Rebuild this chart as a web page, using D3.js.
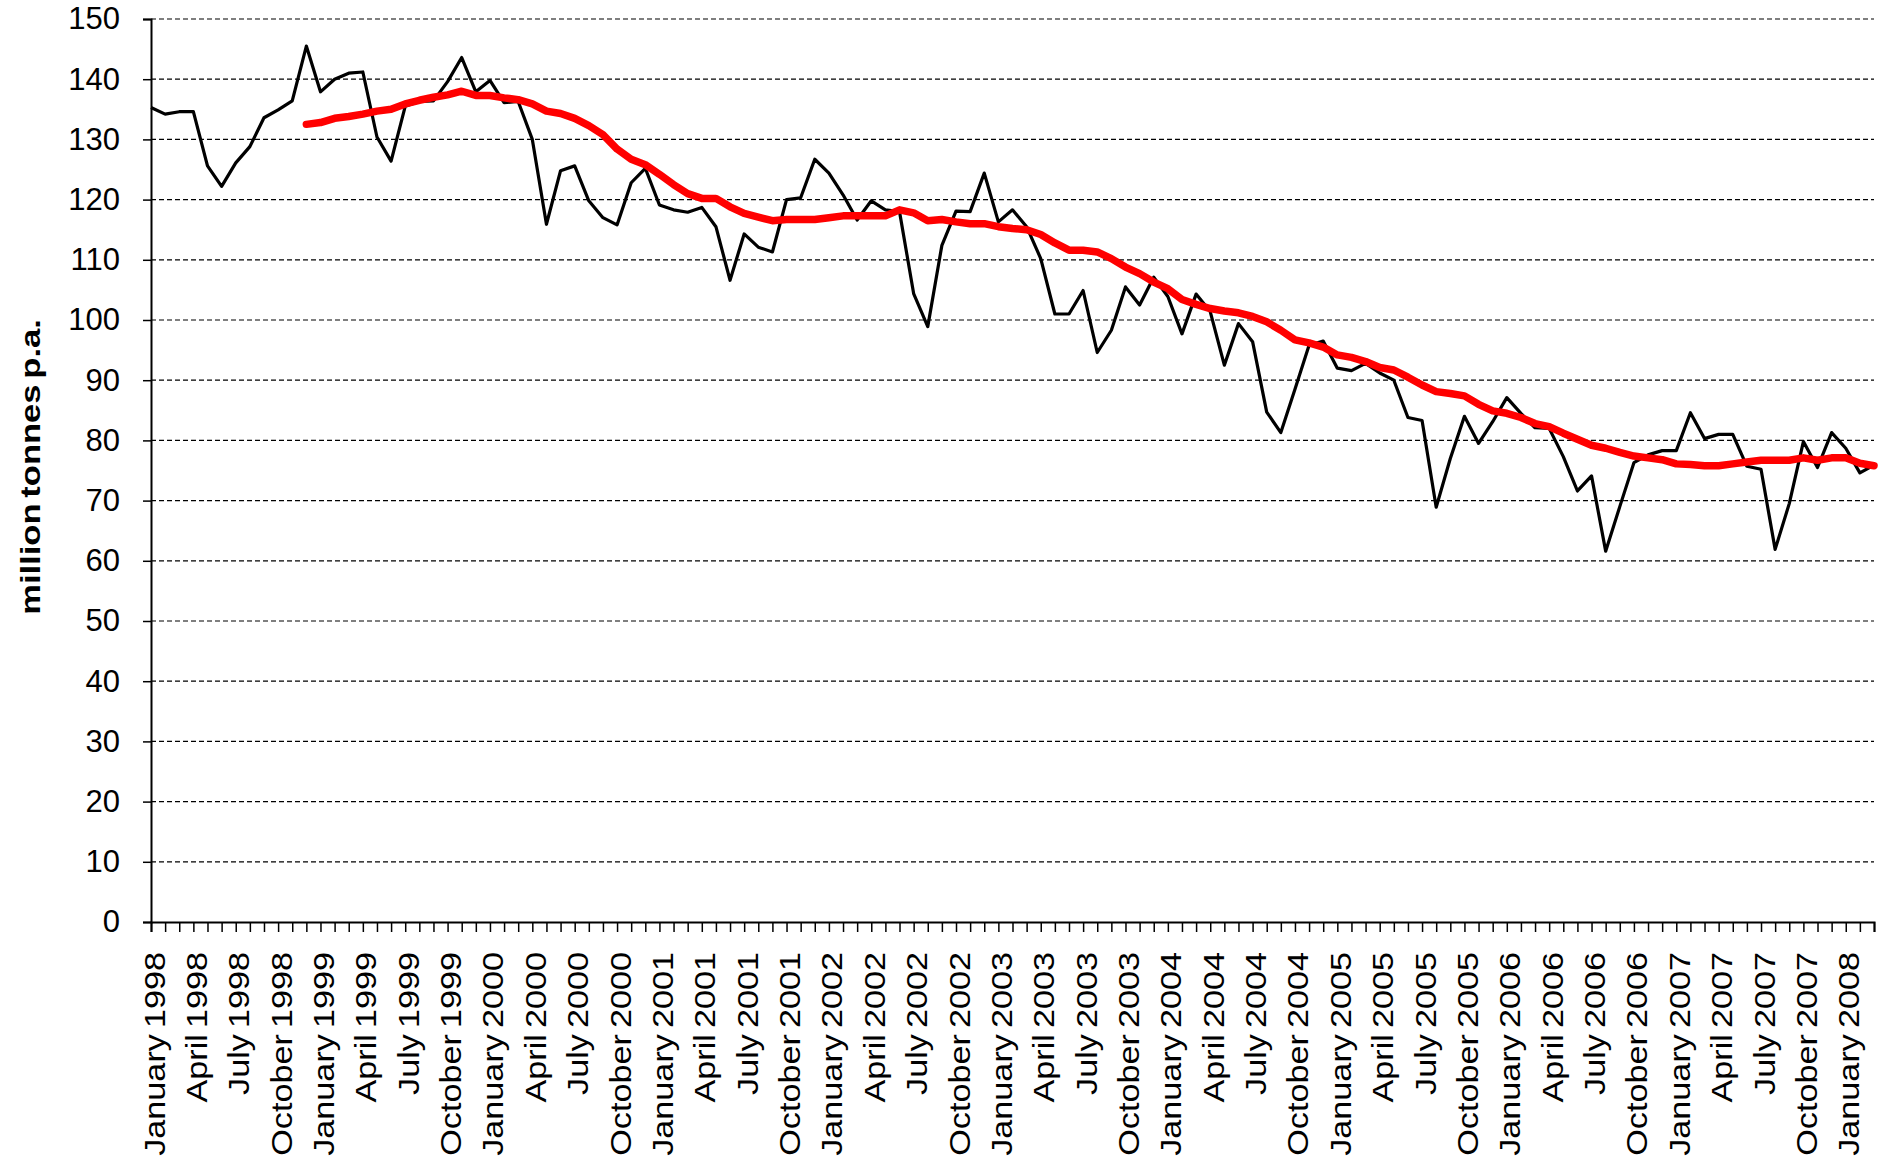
<!DOCTYPE html>
<html>
<head>
<meta charset="utf-8">
<script src="https://cdn.jsdelivr.net/npm/d3@7"></script>
<style>
  html, body { margin: 0; padding: 0; background: #fff; }
  svg { display: block; }
  text { font-family: "Liberation Sans", Arial, sans-serif; fill: #000; }
</style>
</head>
<body>
<svg id="chart" width="1886" height="1165"></svg>
<script>
// ---- data ----
const monthNames = ["January","February","March","April","May","June","July","August","September","October","November","December"];
const startYear = 1998;
const monthCount = 123; // January 1998 .. March 2008
const categories = d3.range(monthCount).map(i => monthNames[i % 12] + " " + (startYear + Math.floor(i / 12)));

const actual = [
  135.3,134.2,134.6,134.6,125.6,122.2,126.1,128.8,133.6,134.9,136.4,145.5,
  137.9,140.0,141.0,141.2,130.4,126.4,135.5,136.3,136.4,139.6,143.6,137.9,
  139.8,136.1,136.3,130.0,115.9,124.8,125.6,119.8,117.0,115.8,122.8,125.2,
  119.1,118.3,117.9,118.7,115.5,106.6,114.3,112.1,111.3,120.0,120.3,126.7,
  124.4,120.8,116.6,119.8,118.3,118.0,104.4,98.9,112.4,118.1,118.0,124.4,
  116.3,118.3,115.5,110.2,101.0,101.0,104.9,94.6,98.3,105.5,102.5,107.1,
  103.9,97.7,104.3,101.4,92.5,99.4,96.4,84.7,81.3,88.5,95.8,96.5,
  92.0,91.6,92.8,91.2,90.0,83.8,83.3,68.9,77.0,84.0,79.5,83.1,
  87.1,84.5,82.1,82.0,77.3,71.6,74.1,61.6,69.0,76.3,77.6,78.3,
  78.3,84.6,80.3,81.0,81.0,75.7,75.2,61.9,69.5,79.8,75.5,81.3,
  78.7,74.6,75.9
];

const movingAvg = [
  null,null,null,null,null,null,null,null,null,null,null,132.5,
  132.8,133.5,133.8,134.2,134.7,135.0,135.9,136.5,137.0,137.4,138.0,137.3,
  137.3,136.9,136.6,135.9,134.7,134.3,133.5,132.3,130.8,128.4,126.7,125.8,
  124.2,122.5,121.0,120.2,120.2,118.8,117.7,117.1,116.5,116.7,116.7,116.7,
  117.0,117.3,117.3,117.3,117.3,118.3,117.8,116.5,116.7,116.3,116.0,116.0,
  115.5,115.2,115.0,114.2,112.8,111.6,111.6,111.3,110.2,108.8,107.7,106.3,
  105.2,103.4,102.6,101.9,101.5,101.2,100.6,99.7,98.3,96.7,96.2,95.5,
  94.2,93.8,93.1,92.1,91.7,90.5,89.2,88.1,87.8,87.4,86.0,84.9,
  84.5,83.8,82.8,82.3,81.2,80.2,79.2,78.7,78.0,77.4,77.1,76.8,
  76.1,76.0,75.8,75.8,76.1,76.4,76.7,76.7,76.7,77.1,76.7,77.1,
  77.1,76.2,75.8
];

const yTicks = [0,10,20,30,40,50,60,70,80,90,100,110,120,130,140,150];
const labelStep = 3;
const yTitle = "million tonnes p.a.";

// ---- layout ----
const svg = d3.select("#chart");
const plot = { left: 151, right: 1874, top: 19, bottom: 922 };

const x = d3.scalePoint().domain(categories).range([plot.left, plot.right]);
const y = d3.scaleLinear().domain([0, 150]).range([plot.bottom, plot.top]);

// gridlines
svg.append("g")
  .selectAll("line")
  .data(yTicks.filter(v => v > 0))
  .join("line")
  .attr("x1", plot.left).attr("x2", plot.right)
  .attr("y1", d => y(d)).attr("y2", d => y(d))
  .attr("stroke", "#000").attr("stroke-width", 1.2)
  .attr("stroke-dasharray", "5,3");

// y axis
const yAxis = d3.axisLeft(y).tickValues(yTicks).tickSize(8).tickPadding(23).tickFormat(d3.format("d"));
const gy = svg.append("g").attr("transform", `translate(${plot.left},0)`).call(yAxis);
gy.select(".domain").attr("stroke", "#000").attr("stroke-width", 2);
gy.selectAll(".tick line").attr("stroke", "#000").attr("stroke-width", 1.5);
gy.selectAll(".tick text")
  .style("font-family", "'Liberation Sans', Arial, sans-serif")
  .style("font-size", "31px").attr("fill", "#000");

// x axis
const xAxis = d3.axisBottom(x).tickSize(10).tickFormat("");
const gx = svg.append("g").attr("transform", `translate(0,${plot.bottom})`).call(xAxis);
gx.select(".domain").attr("stroke", "#000").attr("stroke-width", 2);
gx.selectAll(".tick line").attr("stroke", "#000").attr("stroke-width", 1.5);

// x labels (every third month)
svg.append("g")
  .selectAll("text")
  .data(categories.filter((c, i) => i % labelStep === 0))
  .join("text")
  .attr("transform", d => `translate(${x(d) + 3},${plot.bottom + 30}) rotate(-90) scale(1.14,1)`)
  .attr("text-anchor", "end")
  .attr("dy", "0.35em")
  .style("font-size", "30px")
  .style("word-spacing", "-3px")
  .text(d => d);

// y title
svg.append("text")
  .attr("transform", `translate(31,467) rotate(-90) scale(1.28,1)`)
  .attr("text-anchor", "middle")
  .attr("dy", "0.35em")
  .style("font-size", "27px")
  .style("font-weight", "bold")
  .style("word-spacing", "-3px")
  .text(yTitle);

// lines
const line = d3.line()
  .defined(d => d.v != null)
  .x(d => x(d.c))
  .y(d => y(d.v));

svg.append("path")
  .datum(categories.map((c, i) => ({ c, v: actual[i] })))
  .attr("fill", "none")
  .attr("stroke", "#000")
  .attr("stroke-width", 3.2)
  .attr("stroke-linejoin", "round")
  .attr("d", line);

svg.append("path")
  .datum(categories.map((c, i) => ({ c, v: movingAvg[i] })))
  .attr("fill", "none")
  .attr("stroke", "#ff0000")
  .attr("stroke-width", 7.5)
  .attr("stroke-linejoin", "round")
  .attr("stroke-linecap", "round")
  .attr("d", line);
</script>
</body>
</html>
